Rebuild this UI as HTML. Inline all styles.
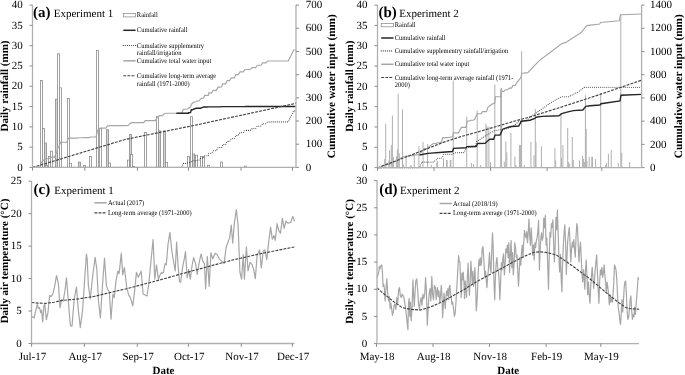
<!DOCTYPE html>
<html><head><meta charset="utf-8"><title>Rainfall and temperature</title>
<style>html,body{margin:0;padding:0;background:#fff;overflow:hidden;width:685px;height:375px;}svg{display:block;font-family:"Liberation Serif", serif;text-rendering:geometricPrecision;filter:grayscale(1);}</style>
</head><body>
<svg width="685" height="375" viewBox="0 0 685 375">
<rect width="685" height="375" fill="#fff"/>
<rect x="40.5" y="80.57" width="2" height="86.83" fill="#fff" stroke="#8c8c8c" stroke-width="0.8"/>
<rect x="42.5" y="128.45" width="2" height="38.95" fill="#fff" stroke="#8c8c8c" stroke-width="0.8"/>
<rect x="44.5" y="143.06" width="2" height="24.34" fill="#d2d2d2" stroke="#8c8c8c" stroke-width="0.8"/>
<rect x="45.5" y="165.37" width="2" height="2.03" fill="#fff" stroke="#8c8c8c" stroke-width="0.8"/>
<rect x="48.5" y="156.44" width="2" height="10.96" fill="#fff" stroke="#8c8c8c" stroke-width="0.8"/>
<rect x="50.5" y="151.17" width="2" height="16.23" fill="#fff" stroke="#8c8c8c" stroke-width="0.8"/>
<rect x="55.5" y="99.23" width="2" height="68.17" fill="#d2d2d2" stroke="#8c8c8c" stroke-width="0.8"/>
<rect x="57.5" y="53.79" width="2" height="113.61" fill="#fff" stroke="#8c8c8c" stroke-width="0.8"/>
<rect x="59.5" y="87.87" width="2" height="79.53" fill="#fff" stroke="#8c8c8c" stroke-width="0.8"/>
<rect x="67.5" y="98.42" width="2" height="68.98" fill="#fff" stroke="#8c8c8c" stroke-width="0.8"/>
<rect x="69.5" y="163.34" width="2" height="4.06" fill="#fff" stroke="#8c8c8c" stroke-width="0.8"/>
<rect x="78.5" y="162.13" width="2" height="5.27" fill="#d2d2d2" stroke="#8c8c8c" stroke-width="0.8"/>
<rect x="83.5" y="165.37" width="2" height="2.03" fill="#fff" stroke="#8c8c8c" stroke-width="0.8"/>
<rect x="89.5" y="156.44" width="2" height="10.96" fill="#fff" stroke="#8c8c8c" stroke-width="0.8"/>
<rect x="96.5" y="50.54" width="2" height="116.86" fill="#fff" stroke="#8c8c8c" stroke-width="0.8"/>
<rect x="99.5" y="128.45" width="2" height="38.95" fill="#fff" stroke="#8c8c8c" stroke-width="0.8"/>
<rect x="106.5" y="129.67" width="2" height="37.73" fill="#d2d2d2" stroke="#8c8c8c" stroke-width="0.8"/>
<rect x="108.5" y="162.94" width="2" height="4.46" fill="#fff" stroke="#8c8c8c" stroke-width="0.8"/>
<rect x="127.5" y="160.1" width="2" height="7.3" fill="#fff" stroke="#8c8c8c" stroke-width="0.8"/>
<rect x="129.5" y="134.53" width="2" height="32.87" fill="#d2d2d2" stroke="#8c8c8c" stroke-width="0.8"/>
<rect x="130.5" y="154.42" width="2" height="12.98" fill="#fff" stroke="#8c8c8c" stroke-width="0.8"/>
<rect x="132.5" y="166.59" width="2" height="0.81" fill="#fff" stroke="#8c8c8c" stroke-width="0.8"/>
<rect x="144.5" y="132.51" width="2" height="34.89" fill="#fff" stroke="#8c8c8c" stroke-width="0.8"/>
<rect x="156.5" y="116.68" width="2" height="50.72" fill="#fff" stroke="#8c8c8c" stroke-width="0.8"/>
<rect x="158.5" y="130.88" width="2" height="36.52" fill="#d2d2d2" stroke="#8c8c8c" stroke-width="0.8"/>
<rect x="163.5" y="130.88" width="2" height="36.52" fill="#d2d2d2" stroke="#8c8c8c" stroke-width="0.8"/>
<rect x="165.5" y="162.53" width="2" height="4.87" fill="#fff" stroke="#8c8c8c" stroke-width="0.8"/>
<rect x="187.5" y="156.44" width="2" height="10.96" fill="#fff" stroke="#8c8c8c" stroke-width="0.8"/>
<rect x="190.5" y="116.68" width="2" height="50.72" fill="#fff" stroke="#8c8c8c" stroke-width="0.8"/>
<rect x="192.5" y="154.01" width="2" height="13.39" fill="#d2d2d2" stroke="#8c8c8c" stroke-width="0.8"/>
<rect x="195.5" y="155.23" width="2" height="12.17" fill="#fff" stroke="#8c8c8c" stroke-width="0.8"/>
<rect x="200.5" y="156.44" width="2" height="10.96" fill="#fff" stroke="#8c8c8c" stroke-width="0.8"/>
<rect x="202.5" y="156.44" width="2" height="10.96" fill="#fff" stroke="#8c8c8c" stroke-width="0.8"/>
<rect x="207.5" y="165.37" width="2" height="2.03" fill="#fff" stroke="#8c8c8c" stroke-width="0.8"/>
<rect x="220.5" y="162.13" width="2" height="5.27" fill="#fff" stroke="#8c8c8c" stroke-width="0.8"/>
<rect x="244.5" y="166.18" width="2" height="1.22" fill="#fff" stroke="#8c8c8c" stroke-width="0.8"/>
<polyline points="32.5,167.4 39.6,167.4 41.3,167.4 41.6,167.4 43.3,167.4 43.5,167.4 45.2,167.4 46.7,167.4 48.1,167.4 49.8,167.4 50,167.4 51.7,167.4 54.3,167.4 56,167.4 56.5,167.4 58.2,167.4 58.9,167.4 60.6,167.4 66.7,167.4 68.4,167.4 68.9,167.4 70.6,167.4 77.3,167.4 79,167.4 82.7,167.4 84.4,167.4 88.9,167.4 90.6,167.4 96,167.4 97.7,167.4 98.3,167.4 100,167.4 105.9,167.4 107.6,167.4 108.1,167.4 109.8,167.4 126.6,167.4 128.3,167.4 130,167.4 130.2,167.4 131.9,167.4 132,167.4 133.7,167.4 143.6,167.4 145.3,167.4 155.3,167.4 157,167.4 157.6,167.4 159.3,167.4 162.6,167.4 164.3,167.4 164.5,167.4 166.2,167.4 181.6,167.4 183.3,163.4 186.8,163.4 188.5,162.6 188.6,162.6 188.8,162.6 190.5,161.8 191.4,161.8 192.7,160.7 193.8,160.7 194.3,160.7 196,160.7 197.3,160.1 199,160.1 200.7,158.1 201.8,158.1 201.9,158.1 203.6,158.1 204.7,155.7 206.9,155.7 208.6,155.7 208.7,153.3 211.6,153.3 213.3,150.8 216.3,150.8 218,147.6 219.9,147.6 221.6,147.6 222.7,144.6 225.6,144.6 227.3,141.4 229.6,141.4 231.3,138.6 234.3,138.6 236,135.4 238.3,135.4 240,132.6 243.3,132.6 245,130.4 245.3,130.4 250.3,130.4 252,128.5 255.6,128.5 257.3,126.1 261,126.1 262.7,123.7 265.8,123.7 267.5,121.9 288.3,121.9 290,118.23 290.1,118.23 291.8,114.56 291.9,114.56 293.6,110.89 295.6,110.89" fill="none" stroke="#3a3a3a" stroke-width="1.1" stroke-dasharray="0 2.05" stroke-linecap="round"/>
<polyline points="32.5,167.4 39.6,167.4 41.3,162.44 41.6,162.44 43.3,160.21 43.5,160.21 45.2,158.82 46.7,158.71 48.1,158.71 49.8,158.08 50,158.08 51.7,157.15 54.3,157.15 56,153.26 56.5,153.26 58.2,146.76 58.9,146.76 60.6,142.22 66.7,142.22 68.4,138.28 68.9,138.28 70.6,138.05 77.3,138.05 79,137.75 82.7,137.75 84.4,137.63 88.9,137.63 90.6,137 96,137 97.7,130.33 98.3,130.33 100,128.1 105.9,128.1 107.6,125.94 108.1,125.94 109.8,125.69 126.6,125.69 128.3,125.27 130,123.39 130.2,123.39 131.9,122.65 132,122.65 133.7,122.61 143.6,122.61 145.3,120.61 155.3,120.61 157,117.71 157.6,117.71 159.3,115.63 162.6,115.63 164.3,113.54 164.5,113.54 166.2,113.26 181.6,113.26 183.3,109.26 186.8,109.26 188.5,108.46 188.6,107.84 188.8,107.84 190.5,107.04 191.4,104.14 192.7,103.04 193.8,102.27 194.3,102.27 196,101.58 197.3,100.98 199,100.98 200.7,98.98 201.8,98.35 201.9,98.35 203.6,97.72 204.7,95.32 206.9,95.32 208.6,95.21 208.7,92.81 211.6,92.81 213.3,90.31 216.3,90.31 218,87.11 219.9,87.11 221.6,86.81 222.7,83.81 225.6,83.81 227.3,80.61 229.6,80.61 231.3,77.81 234.3,77.81 236,74.61 238.3,74.61 240,71.81 243.3,71.81 245,69.61 245.3,69.54 250.3,69.54 252,67.64 255.6,67.64 257.3,65.24 261,65.24 262.7,62.84 265.8,62.84 267.5,61.04 288.3,61.04 290,57.37 290.1,57.37 291.8,53.7 291.9,53.7 293.6,50.03 295.6,50.03" fill="none" stroke="#a6a6a6" stroke-width="1.15"/>
<polyline points="176.4,113.26 181.6,113.26 183.3,113.26 186.8,113.26 188.5,113.26 188.6,112.64 188.8,112.64 190.5,112.64 191.4,109.74 192.7,109.74 193.8,108.97 194.3,108.97 196,108.28 197.3,108.28 199,108.28 200.7,108.28 201.8,107.65 201.9,107.65 203.6,107.02 204.7,107.02 206.9,107.02 208.6,106.91 208.7,106.91 211.6,106.91 213.3,106.91 216.3,106.91 218,106.91 219.9,106.91 221.6,106.61 222.7,106.61 225.6,106.61 227.3,106.61 229.6,106.61 231.3,106.61 234.3,106.61 236,106.61 238.3,106.61 240,106.61 243.3,106.61 245,106.61 245.3,106.54 250.3,106.54 252,106.54 255.6,106.54 257.3,106.54 261,106.54 262.7,106.54 265.8,106.54 267.5,106.54 288.3,106.54 290,106.54 290.1,106.54 291.8,106.54 291.9,106.54 293.6,106.54 295.6,106.54" fill="none" stroke="#262626" stroke-width="1.4"/>
<polyline points="32.5,167.5 125,139.5 200,124.2 296,103.3" fill="none" stroke="#444" stroke-width="1.15" stroke-dasharray="2.9 1.2"/>
<line x1="32.5" y1="5.1" x2="32.5" y2="167.4" stroke="#b0b0b0" stroke-width="1.3"/>
<line x1="29.5" y1="167.4" x2="32.5" y2="167.4" stroke="#8c8c8c" stroke-width="1"/>
<text x="22.8" y="167.55" font-size="11" text-anchor="end" font-weight="normal" fill="#000" dominant-baseline="central">0</text>
<line x1="29.5" y1="147.11" x2="32.5" y2="147.11" stroke="#8c8c8c" stroke-width="1"/>
<text x="22.8" y="147.26" font-size="11" text-anchor="end" font-weight="normal" fill="#000" dominant-baseline="central">5</text>
<line x1="29.5" y1="126.83" x2="32.5" y2="126.83" stroke="#8c8c8c" stroke-width="1"/>
<text x="22.8" y="126.98" font-size="11" text-anchor="end" font-weight="normal" fill="#000" dominant-baseline="central">10</text>
<line x1="29.5" y1="106.54" x2="32.5" y2="106.54" stroke="#8c8c8c" stroke-width="1"/>
<text x="22.8" y="106.69" font-size="11" text-anchor="end" font-weight="normal" fill="#000" dominant-baseline="central">15</text>
<line x1="29.5" y1="86.25" x2="32.5" y2="86.25" stroke="#8c8c8c" stroke-width="1"/>
<text x="22.8" y="86.4" font-size="11" text-anchor="end" font-weight="normal" fill="#000" dominant-baseline="central">20</text>
<line x1="29.5" y1="65.96" x2="32.5" y2="65.96" stroke="#8c8c8c" stroke-width="1"/>
<text x="22.8" y="66.11" font-size="11" text-anchor="end" font-weight="normal" fill="#000" dominant-baseline="central">25</text>
<line x1="29.5" y1="45.67" x2="32.5" y2="45.67" stroke="#8c8c8c" stroke-width="1"/>
<text x="22.8" y="45.82" font-size="11" text-anchor="end" font-weight="normal" fill="#000" dominant-baseline="central">30</text>
<line x1="29.5" y1="25.39" x2="32.5" y2="25.39" stroke="#8c8c8c" stroke-width="1"/>
<text x="22.8" y="25.54" font-size="11" text-anchor="end" font-weight="normal" fill="#000" dominant-baseline="central">35</text>
<line x1="29.5" y1="5.1" x2="32.5" y2="5.1" stroke="#8c8c8c" stroke-width="1"/>
<text x="22.8" y="5.25" font-size="11" text-anchor="end" font-weight="normal" fill="#000" dominant-baseline="central">40</text>
<line x1="296" y1="5.1" x2="296" y2="167.4" stroke="#b0b0b0" stroke-width="1.3"/>
<line x1="296" y1="167.4" x2="299" y2="167.4" stroke="#8c8c8c" stroke-width="1"/>
<text x="305.8" y="167.55" font-size="11" text-anchor="start" font-weight="normal" fill="#000" dominant-baseline="central">0</text>
<line x1="296" y1="144.21" x2="299" y2="144.21" stroke="#8c8c8c" stroke-width="1"/>
<text x="305.8" y="144.36" font-size="11" text-anchor="start" font-weight="normal" fill="#000" dominant-baseline="central">100</text>
<line x1="296" y1="121.03" x2="299" y2="121.03" stroke="#8c8c8c" stroke-width="1"/>
<text x="305.8" y="121.18" font-size="11" text-anchor="start" font-weight="normal" fill="#000" dominant-baseline="central">200</text>
<line x1="296" y1="97.84" x2="299" y2="97.84" stroke="#8c8c8c" stroke-width="1"/>
<text x="305.8" y="97.99" font-size="11" text-anchor="start" font-weight="normal" fill="#000" dominant-baseline="central">300</text>
<line x1="296" y1="74.66" x2="299" y2="74.66" stroke="#8c8c8c" stroke-width="1"/>
<text x="305.8" y="74.81" font-size="11" text-anchor="start" font-weight="normal" fill="#000" dominant-baseline="central">400</text>
<line x1="296" y1="51.47" x2="299" y2="51.47" stroke="#8c8c8c" stroke-width="1"/>
<text x="305.8" y="51.62" font-size="11" text-anchor="start" font-weight="normal" fill="#000" dominant-baseline="central">500</text>
<line x1="296" y1="28.29" x2="299" y2="28.29" stroke="#8c8c8c" stroke-width="1"/>
<text x="305.8" y="28.44" font-size="11" text-anchor="start" font-weight="normal" fill="#000" dominant-baseline="central">600</text>
<line x1="296" y1="5.1" x2="299" y2="5.1" stroke="#8c8c8c" stroke-width="1"/>
<text x="305.8" y="5.25" font-size="11" text-anchor="start" font-weight="normal" fill="#000" dominant-baseline="central">700</text>
<line x1="32.5" y1="167.4" x2="296" y2="167.4" stroke="#b0b0b0" stroke-width="1.3"/>
<line x1="32.5" y1="167.4" x2="32.5" y2="170.7" stroke="#8c8c8c" stroke-width="1"/>
<line x1="84.8" y1="167.4" x2="84.8" y2="170.7" stroke="#8c8c8c" stroke-width="1"/>
<line x1="137.4" y1="167.4" x2="137.4" y2="170.7" stroke="#8c8c8c" stroke-width="1"/>
<line x1="188.5" y1="167.4" x2="188.5" y2="170.7" stroke="#8c8c8c" stroke-width="1"/>
<line x1="241" y1="167.4" x2="241" y2="170.7" stroke="#8c8c8c" stroke-width="1"/>
<line x1="292.5" y1="167.4" x2="292.5" y2="170.7" stroke="#8c8c8c" stroke-width="1"/>
<rect x="384.2" y="158.9" width="1" height="8.7" fill="#b0b0b0"/>
<rect x="385.2" y="123.6" width="1" height="44" fill="#b0b0b0"/>
<rect x="388.3" y="160.4" width="1" height="7.2" fill="#b0b0b0"/>
<rect x="389.1" y="150.2" width="1" height="17.4" fill="#b0b0b0"/>
<rect x="390.8" y="145.1" width="1" height="22.5" fill="#b0b0b0"/>
<rect x="391.9" y="115.6" width="1" height="52" fill="#b0b0b0"/>
<rect x="392.9" y="157" width="1" height="10.6" fill="#b0b0b0"/>
<rect x="395.9" y="156.3" width="1" height="11.3" fill="#b0b0b0"/>
<rect x="396.9" y="149.2" width="1" height="18.4" fill="#b0b0b0"/>
<rect x="397.7" y="93.8" width="1" height="73.8" fill="#b0b0b0"/>
<rect x="398.8" y="153.3" width="1" height="14.3" fill="#b0b0b0"/>
<rect x="402" y="109.2" width="1" height="58.4" fill="#b0b0b0"/>
<rect x="402.9" y="164.5" width="1" height="3.1" fill="#b0b0b0"/>
<rect x="405.6" y="155.8" width="1" height="11.8" fill="#b0b0b0"/>
<rect x="409.7" y="165.5" width="1" height="2.1" fill="#b0b0b0"/>
<rect x="410.7" y="165.5" width="1" height="2.1" fill="#b0b0b0"/>
<rect x="413.8" y="154.8" width="1" height="12.8" fill="#b0b0b0"/>
<rect x="418.4" y="146.1" width="1" height="21.5" fill="#b0b0b0"/>
<rect x="422.5" y="142" width="1" height="25.6" fill="#b0b0b0"/>
<rect x="427.1" y="144.1" width="1" height="23.5" fill="#b0b0b0"/>
<rect x="430.7" y="164.5" width="1" height="3.1" fill="#b0b0b0"/>
<rect x="436.3" y="162.5" width="1" height="5.1" fill="#b0b0b0"/>
<rect x="436.8" y="160.9" width="1" height="6.7" fill="#b0b0b0"/>
<rect x="443" y="158.5" width="1" height="9.1" fill="#b0b0b0"/>
<rect x="446.1" y="159.9" width="1" height="7.7" fill="#b0b0b0"/>
<rect x="446.6" y="159.9" width="1" height="7.7" fill="#b0b0b0"/>
<rect x="449.8" y="159.9" width="1" height="7.7" fill="#b0b0b0"/>
<rect x="450.4" y="159.9" width="1" height="7.7" fill="#b0b0b0"/>
<rect x="452.7" y="80.6" width="1" height="87" fill="#b0b0b0"/>
<rect x="466.2" y="116.8" width="1" height="50.8" fill="#b0b0b0"/>
<rect x="470.9" y="163" width="1" height="4.6" fill="#b0b0b0"/>
<rect x="473.1" y="164" width="1" height="3.6" fill="#b0b0b0"/>
<rect x="476.7" y="110.6" width="1" height="57" fill="#b0b0b0"/>
<rect x="480.1" y="165" width="1" height="2.6" fill="#b0b0b0"/>
<rect x="485.4" y="123.6" width="1" height="44" fill="#b0b0b0"/>
<rect x="486.4" y="125.9" width="1" height="41.7" fill="#b0b0b0"/>
<rect x="488.4" y="126.7" width="1" height="40.9" fill="#b0b0b0"/>
<rect x="490" y="162" width="1" height="5.6" fill="#b0b0b0"/>
<rect x="494.3" y="84.5" width="1" height="83.1" fill="#b0b0b0"/>
<rect x="500.2" y="88.6" width="1" height="79" fill="#b0b0b0"/>
<rect x="501" y="88" width="1" height="79.6" fill="#b0b0b0"/>
<rect x="503.8" y="161.5" width="1" height="6.1" fill="#b0b0b0"/>
<rect x="505.3" y="141.3" width="1" height="26.3" fill="#b0b0b0"/>
<rect x="506.3" y="152.3" width="1" height="15.3" fill="#b0b0b0"/>
<rect x="510.4" y="132.7" width="1" height="34.9" fill="#b0b0b0"/>
<rect x="514.4" y="156.3" width="1" height="11.3" fill="#b0b0b0"/>
<rect x="515.4" y="165" width="1" height="2.6" fill="#b0b0b0"/>
<rect x="518.9" y="145.1" width="1" height="22.5" fill="#b0b0b0"/>
<rect x="519.9" y="145.1" width="1" height="22.5" fill="#b0b0b0"/>
<rect x="521.1" y="51.2" width="1" height="116.4" fill="#b0b0b0"/>
<rect x="523.8" y="165" width="1" height="2.6" fill="#b0b0b0"/>
<rect x="530.4" y="142" width="1" height="25.6" fill="#b0b0b0"/>
<rect x="533.5" y="155.3" width="1" height="12.3" fill="#b0b0b0"/>
<rect x="534.8" y="109" width="1" height="58.6" fill="#b0b0b0"/>
<rect x="535.5" y="142" width="1" height="25.6" fill="#b0b0b0"/>
<rect x="537.9" y="167" width="1" height="0.6" fill="#b0b0b0"/>
<rect x="540.9" y="146.1" width="1" height="21.5" fill="#b0b0b0"/>
<rect x="546.7" y="167" width="1" height="0.6" fill="#b0b0b0"/>
<rect x="554.4" y="148.2" width="1" height="19.4" fill="#b0b0b0"/>
<rect x="555.2" y="160.4" width="1" height="7.2" fill="#b0b0b0"/>
<rect x="560.4" y="113" width="1" height="54.6" fill="#b0b0b0"/>
<rect x="561" y="158.4" width="1" height="9.2" fill="#b0b0b0"/>
<rect x="562.4" y="145.1" width="1" height="22.5" fill="#b0b0b0"/>
<rect x="567.2" y="128" width="1" height="39.6" fill="#b0b0b0"/>
<rect x="567.9" y="162" width="1" height="5.6" fill="#b0b0b0"/>
<rect x="569.2" y="163.5" width="1" height="4.1" fill="#b0b0b0"/>
<rect x="571.8" y="136.9" width="1" height="30.7" fill="#b0b0b0"/>
<rect x="572.8" y="159.9" width="1" height="7.7" fill="#b0b0b0"/>
<rect x="579" y="160.4" width="1" height="7.2" fill="#b0b0b0"/>
<rect x="582.1" y="155.8" width="1" height="11.8" fill="#b0b0b0"/>
<rect x="583.1" y="158.9" width="1" height="8.7" fill="#b0b0b0"/>
<rect x="583.8" y="162" width="1" height="5.6" fill="#b0b0b0"/>
<rect x="584.9" y="95.2" width="1" height="72.4" fill="#b0b0b0"/>
<rect x="585.7" y="128.9" width="1" height="38.7" fill="#b0b0b0"/>
<rect x="586.4" y="160.9" width="1" height="6.7" fill="#b0b0b0"/>
<rect x="588.7" y="156.9" width="1" height="10.7" fill="#b0b0b0"/>
<rect x="591.3" y="156.9" width="1" height="10.7" fill="#b0b0b0"/>
<rect x="592" y="156.9" width="1" height="10.7" fill="#b0b0b0"/>
<rect x="595.1" y="158.9" width="1" height="8.7" fill="#b0b0b0"/>
<rect x="600.2" y="93.2" width="1" height="74.4" fill="#b0b0b0"/>
<rect x="605.1" y="165" width="1" height="2.6" fill="#b0b0b0"/>
<rect x="606.1" y="163" width="1" height="4.6" fill="#b0b0b0"/>
<rect x="607.9" y="153.8" width="1" height="13.8" fill="#b0b0b0"/>
<rect x="610.7" y="149.7" width="1" height="17.9" fill="#b0b0b0"/>
<rect x="617.8" y="163" width="1" height="4.6" fill="#b0b0b0"/>
<rect x="620.3" y="14.7" width="1" height="152.9" fill="#b0b0b0"/>
<rect x="621.2" y="152.8" width="1" height="14.8" fill="#b0b0b0"/>
<rect x="622.5" y="166.6" width="1" height="1" fill="#b0b0b0"/>
<rect x="629.1" y="162" width="1" height="5.6" fill="#b0b0b0"/>
<polyline points="377.7,167.8 419.8,167.8 421.7,162.1 433.5,162.1 437.9,158.2 441.6,158.2 443.8,154.3 452.6,154.3 455,152.8 464,152.5 466.5,147.5 475,147.2 476.5,141.5 486.7,135 495.2,130.3 500.5,129.7 507,128.7 513.4,126 518.7,121.7 527.2,120.1 530,117.2 542,108.8 551.6,102.2 561.2,96.8 568.4,96.8 578,92 584.6,87.2 641.6,87.2" fill="none" stroke="#3a3a3a" stroke-width="1.1" stroke-dasharray="0 2.05" stroke-linecap="round"/>
<polyline points="377.7,167.8 381.1,167.8 382.5,165.2 385.35,165.2 386.75,164.1 389.6,164.1 391,163 395.3,161.4 398.5,159.9 402.8,156.7 405.1,156.7 406.5,156.15 408.8,156.15 410.2,155.6 413.1,155.6 414.5,154.9 417.4,154.9 418.8,154.2 421.7,151.9 424,148.5 427.6,148.5 429,146.7 433.5,143.5 436.15,143.5 437.55,142.75 440.2,142.75 441.6,142 442.5,137.9 444.47,137.9 445.87,137.57 447.83,137.57 449.23,137.23 451.2,137.23 452.6,136.9 453.5,132.8 458.5,132.8 461.4,127.3 465.8,127.3 467.3,121 469.55,121 470.95,120.25 473.2,120.25 474.6,119.5 477.2,113.7 481.1,113.7 482.5,111.6 486.5,111.6 487.9,107.3 492.1,104.1 494.7,103 495.5,96.7 500.7,96.7 501.5,91.3 503.95,91.3 505.35,89.7 507.8,89.7 509.2,88.1 511.5,88.1 512.9,85.45 515.2,85.45 516.6,82.8 520.9,77.5 521.8,73.2 523.5,73.2 524.9,72.85 526.6,72.85 528,72.5 539.2,60.6 550.4,52.2 561.6,43.8 565.8,42.4 581.2,32.6 586.8,25.6 599.7,24 600.5,22.5 619.3,20.8 620.5,14.7 641.6,14" fill="none" stroke="#a6a6a6" stroke-width="1.15"/>
<polyline points="419.5,155 419.5,155 428,153.4 442.3,152.2 452.6,151.5 453.5,148.4 466,147.7 467,146.6 476.5,146.2 477.5,143.5 485.1,143.4 487,141.5 489.9,139.3 493.6,139.2 495,135.1 500,135 502.7,129.2 507,127.6 511.2,126.5 518.7,126 521.4,121.2 530,120.2 534.8,118.4 536,117.2 542,116.4 558.8,115.8 561.8,113.6 566,112.4 573.2,110.6 582.8,110 585.8,106.4 590,105.8 600,105 601,103.7 620,101 621,95.2 641.6,94.4" fill="none" stroke="#262626" stroke-width="1.4"/>
<polyline points="377.7,167.8 410,155.5 444,142.1 460,136.9 480,131.3 514,121.3 534,115.8 550,110.6 560,107.5 598,95.1 641.6,80.2" fill="none" stroke="#444" stroke-width="1.15" stroke-dasharray="2.9 1.2"/>
<line x1="377.5" y1="5.1" x2="377.5" y2="167.6" stroke="#b0b0b0" stroke-width="1.3"/>
<line x1="374.5" y1="167.6" x2="377.5" y2="167.6" stroke="#8c8c8c" stroke-width="1"/>
<text x="367.5" y="167.75" font-size="11" text-anchor="end" font-weight="normal" fill="#000" dominant-baseline="central">0</text>
<line x1="374.5" y1="147.29" x2="377.5" y2="147.29" stroke="#8c8c8c" stroke-width="1"/>
<text x="367.5" y="147.44" font-size="11" text-anchor="end" font-weight="normal" fill="#000" dominant-baseline="central">5</text>
<line x1="374.5" y1="126.97" x2="377.5" y2="126.97" stroke="#8c8c8c" stroke-width="1"/>
<text x="367.5" y="127.12" font-size="11" text-anchor="end" font-weight="normal" fill="#000" dominant-baseline="central">10</text>
<line x1="374.5" y1="106.66" x2="377.5" y2="106.66" stroke="#8c8c8c" stroke-width="1"/>
<text x="367.5" y="106.81" font-size="11" text-anchor="end" font-weight="normal" fill="#000" dominant-baseline="central">15</text>
<line x1="374.5" y1="86.35" x2="377.5" y2="86.35" stroke="#8c8c8c" stroke-width="1"/>
<text x="367.5" y="86.5" font-size="11" text-anchor="end" font-weight="normal" fill="#000" dominant-baseline="central">20</text>
<line x1="374.5" y1="66.04" x2="377.5" y2="66.04" stroke="#8c8c8c" stroke-width="1"/>
<text x="367.5" y="66.19" font-size="11" text-anchor="end" font-weight="normal" fill="#000" dominant-baseline="central">25</text>
<line x1="374.5" y1="45.72" x2="377.5" y2="45.72" stroke="#8c8c8c" stroke-width="1"/>
<text x="367.5" y="45.87" font-size="11" text-anchor="end" font-weight="normal" fill="#000" dominant-baseline="central">30</text>
<line x1="374.5" y1="25.41" x2="377.5" y2="25.41" stroke="#8c8c8c" stroke-width="1"/>
<text x="367.5" y="25.56" font-size="11" text-anchor="end" font-weight="normal" fill="#000" dominant-baseline="central">35</text>
<line x1="374.5" y1="5.1" x2="377.5" y2="5.1" stroke="#8c8c8c" stroke-width="1"/>
<text x="367.5" y="5.25" font-size="11" text-anchor="end" font-weight="normal" fill="#000" dominant-baseline="central">40</text>
<line x1="641.6" y1="5.1" x2="641.6" y2="167.6" stroke="#b0b0b0" stroke-width="1.3"/>
<line x1="641.6" y1="167.6" x2="644.6" y2="167.6" stroke="#8c8c8c" stroke-width="1"/>
<text x="650" y="167.75" font-size="11" text-anchor="start" font-weight="normal" fill="#000" dominant-baseline="central">0</text>
<line x1="641.6" y1="144.39" x2="644.6" y2="144.39" stroke="#8c8c8c" stroke-width="1"/>
<text x="650" y="144.54" font-size="11" text-anchor="start" font-weight="normal" fill="#000" dominant-baseline="central">200</text>
<line x1="641.6" y1="121.17" x2="644.6" y2="121.17" stroke="#8c8c8c" stroke-width="1"/>
<text x="650" y="121.32" font-size="11" text-anchor="start" font-weight="normal" fill="#000" dominant-baseline="central">400</text>
<line x1="641.6" y1="97.96" x2="644.6" y2="97.96" stroke="#8c8c8c" stroke-width="1"/>
<text x="650" y="98.11" font-size="11" text-anchor="start" font-weight="normal" fill="#000" dominant-baseline="central">600</text>
<line x1="641.6" y1="74.74" x2="644.6" y2="74.74" stroke="#8c8c8c" stroke-width="1"/>
<text x="650" y="74.89" font-size="11" text-anchor="start" font-weight="normal" fill="#000" dominant-baseline="central">800</text>
<line x1="641.6" y1="51.53" x2="644.6" y2="51.53" stroke="#8c8c8c" stroke-width="1"/>
<text x="650" y="51.68" font-size="11" text-anchor="start" font-weight="normal" fill="#000" dominant-baseline="central">1000</text>
<line x1="641.6" y1="28.31" x2="644.6" y2="28.31" stroke="#8c8c8c" stroke-width="1"/>
<text x="650" y="28.46" font-size="11" text-anchor="start" font-weight="normal" fill="#000" dominant-baseline="central">1200</text>
<line x1="641.6" y1="5.1" x2="644.6" y2="5.1" stroke="#8c8c8c" stroke-width="1"/>
<text x="650" y="5.25" font-size="11" text-anchor="start" font-weight="normal" fill="#000" dominant-baseline="central">1400</text>
<line x1="377.5" y1="167.6" x2="641.6" y2="167.6" stroke="#b0b0b0" stroke-width="1.3"/>
<line x1="377.5" y1="167.6" x2="377.5" y2="170.9" stroke="#8c8c8c" stroke-width="1"/>
<line x1="434.03" y1="167.6" x2="434.03" y2="170.9" stroke="#8c8c8c" stroke-width="1"/>
<line x1="490.57" y1="167.6" x2="490.57" y2="170.9" stroke="#8c8c8c" stroke-width="1"/>
<line x1="547.1" y1="167.6" x2="547.1" y2="170.9" stroke="#8c8c8c" stroke-width="1"/>
<line x1="601.79" y1="167.6" x2="601.79" y2="170.9" stroke="#8c8c8c" stroke-width="1"/>
<polyline points="32,316.4 34.1,318 35.7,310.8 37.3,304.4 38.4,308.4 39.5,307.6 40.8,312.9 41.6,310 42.7,322 44,305.2 44.8,304.4 46.4,319.6 48,312.4 49.6,295.6 51.2,296.4 52.8,294 54.4,287.6 56.5,275.6 58.4,283.6 60,307.6 61.6,299.6 63.2,301.2 65.1,289.5 66.5,277.8 68.1,298.5 70.4,325.8 72,326.2 74.2,298.5 76.5,287.2 78.1,307.6 80.3,327.6 82.6,309.9 86.4,254 87.2,259.2 88.4,285.6 90.3,298.8 92.7,276 95.1,257.3 96.8,268.8 98.5,301.2 100.4,318 102.3,288 104.5,258 106.4,285.6 108.1,290.4 109.3,291.6 111,319.2 112.9,294 114.3,297.6 116,280.8 117.9,271.2 119.1,273.6 121.3,253.2 122.7,274.8 124.4,267.6 126.8,288 128.7,295.2 130.4,297.6 132.8,306 134.7,290.4 136.4,272.4 138.3,277.2 141.2,271.2 143.1,294 146.9,296 148.8,284 151.2,258.8 153.1,239.6 154.8,279.2 156.5,264.8 158.4,279.2 160.3,274.4 161.5,272.7 163.2,273.2 165.1,263.6 166.3,264.8 168,244.4 169.9,232.4 171.6,249.2 173.3,260 175.2,270.8 176.6,242 178.1,266 179.5,281.6 180.7,282.3 182.4,268.4 184.3,258.8 185.5,251.6 187.2,278 188.6,269.6 190.3,279.2 192,266 193.6,257.6 195.6,263.6 197.2,274.4 199.2,262.4 201.1,254 202.8,261.2 204.4,263.6 205.6,288.7 207.3,256.4 209.2,286.3 210.9,252.8 212.8,258.8 215.2,253.2 217.1,254.7 219.3,258.8 221.7,261.2 224.1,263.6 226,248 228.4,240.8 229.6,238.4 231.3,225.2 232.7,243.2 234.4,222.8 236.3,209.6 238,224 239.2,252.8 239.9,272 241.6,279.2 243.2,254.7 244.4,279.2 246.4,246.8 248,270.8 250,262.4 251.9,264.3 253.6,269.1 255.3,278.7 257.2,254.7 259.6,250 261.3,268 263.2,251.2 264.9,250 266.8,259.6 268.7,241.6 270.6,227.2 272.3,239.2 274,235.6 275.2,240.4 277.1,223.6 278.8,230.8 280.5,233.2 282.4,218.3 284.1,228.4 286,221.2 287.9,223.1 290.8,222.4 292.7,216.4 294.6,221.2" fill="none" stroke="#a6a6a6" stroke-width="1.2" stroke-linejoin="round"/>
<polyline points="31.6,302.5 38,303.1 46,303.3 54,302.2 62.1,300.5 78.2,298.9 94.2,296.4 110.3,292.5 126.3,288.8 140,285.2 160,279.9 186.7,272.4 210,266.1 233.5,259.8 262,253.4 294.6,246.9" fill="none" stroke="#444" stroke-width="1.15" stroke-dasharray="2.9 1.2"/>
<line x1="31.5" y1="181.2" x2="31.5" y2="343.5" stroke="#b0b0b0" stroke-width="1.3"/>
<line x1="28.5" y1="343.5" x2="31.5" y2="343.5" stroke="#8c8c8c" stroke-width="1"/>
<text x="21.8" y="343.65" font-size="11" text-anchor="end" font-weight="normal" fill="#000" dominant-baseline="central">0</text>
<line x1="28.5" y1="311.04" x2="31.5" y2="311.04" stroke="#8c8c8c" stroke-width="1"/>
<text x="21.8" y="311.19" font-size="11" text-anchor="end" font-weight="normal" fill="#000" dominant-baseline="central">5</text>
<line x1="28.5" y1="278.58" x2="31.5" y2="278.58" stroke="#8c8c8c" stroke-width="1"/>
<text x="21.8" y="278.73" font-size="11" text-anchor="end" font-weight="normal" fill="#000" dominant-baseline="central">10</text>
<line x1="28.5" y1="246.12" x2="31.5" y2="246.12" stroke="#8c8c8c" stroke-width="1"/>
<text x="21.8" y="246.27" font-size="11" text-anchor="end" font-weight="normal" fill="#000" dominant-baseline="central">15</text>
<line x1="28.5" y1="213.66" x2="31.5" y2="213.66" stroke="#8c8c8c" stroke-width="1"/>
<text x="21.8" y="213.81" font-size="11" text-anchor="end" font-weight="normal" fill="#000" dominant-baseline="central">20</text>
<line x1="28.5" y1="181.2" x2="31.5" y2="181.2" stroke="#8c8c8c" stroke-width="1"/>
<text x="21.8" y="181.35" font-size="11" text-anchor="end" font-weight="normal" fill="#000" dominant-baseline="central">25</text>
<line x1="31.5" y1="343.5" x2="294.5" y2="343.5" stroke="#b0b0b0" stroke-width="1.3"/>
<line x1="31.6" y1="343.5" x2="31.6" y2="346.8" stroke="#8c8c8c" stroke-width="1"/>
<line x1="84.44" y1="343.5" x2="84.44" y2="346.8" stroke="#8c8c8c" stroke-width="1"/>
<line x1="137.29" y1="343.5" x2="137.29" y2="346.8" stroke="#8c8c8c" stroke-width="1"/>
<line x1="188.42" y1="343.5" x2="188.42" y2="346.8" stroke="#8c8c8c" stroke-width="1"/>
<line x1="241.27" y1="343.5" x2="241.27" y2="346.8" stroke="#8c8c8c" stroke-width="1"/>
<line x1="292.4" y1="343.5" x2="292.4" y2="346.8" stroke="#8c8c8c" stroke-width="1"/>
<polyline points="377.1,277.7 378.2,274.3 378.9,271 379.3,266.6 380,268.8 380.9,265.5 381.8,265 382.4,272.1 383.1,286.5 383.7,284.3 384.4,288.7 385.1,300.9 386,288.7 386.8,278.8 387.7,293.1 388.6,300.9 389.3,296.5 390.2,308.6 390.8,303.1 391.5,307.5 392.4,315.3 393.3,311.9 394.1,305.3 395,304.2 395.9,309.3 396.8,297.6 397.7,303.1 398.6,289.8 399.5,287.6 400.3,295.4 401.2,297.6 402.1,294.2 403,295.4 403.9,297.6 404.8,303.1 405.6,308.6 406.5,316.4 407.2,323 407.9,329.6 408.5,303.1 409.2,298.7 409.8,316.4 410.5,302 411.2,320.8 412.1,307.5 412.9,279.9 413.6,294.2 414.3,306.4 414.9,294.2 415.8,281 416.7,278.8 417.6,288.7 418.5,303.1 419.4,309.7 420.2,302 421.1,297.6 422,305.3 422.9,294.2 423.8,298.7 424.7,294.2 425.6,277.7 426.4,290.9 427.3,325.2 428.2,307.5 429.1,294.2 430,288.7 430.9,300.9 431.8,276.5 432.6,294.2 433.5,299.8 434.4,285.4 435.5,287.6 436.2,299.7 436.9,292 437.5,287.6 438.2,296.4 438.9,290.9 439.8,302 440.6,295.3 441.3,285.4 442,296.4 442.6,317.4 443.3,306.4 444,293.1 444.6,299.7 445.3,308.6 445.9,297.5 446.6,290.9 447.3,295.3 447.9,288.7 448.6,299.7 449.3,286.5 449.9,285.4 450.6,294.2 451.3,298.6 451.9,304.2 452.6,301.9 453.5,308.6 454.4,316.3 455.2,313 456.1,299.7 457,284.2 457.9,268.8 458.6,255.5 459.2,261 459.9,262.1 460.5,278.7 461.2,297.5 461.9,273.2 462.5,279.8 463.2,272.1 463.9,282 464.5,298.6 465.2,280.9 465.9,288.7 466.5,297.5 467.2,279.8 468.1,263.2 468.7,282 469.4,295.3 470.1,284.2 470.9,261 471.6,273.2 472.3,284.2 472.9,271 473.6,286.5 474.3,278.7 474.9,267.7 475.6,285.4 476.3,310.8 476.9,304.2 477.6,288.7 478.2,273.2 478.9,259.9 479.6,265.4 480.2,257.7 480.9,265.4 481.6,262.1 482.2,248.8 482.9,246.6 483.6,255.5 484.2,266.5 484.9,277.6 485.5,271 486.2,278.7 486.9,287.6 487.5,278.7 488.2,272 488.7,265.1 489.5,252.7 490.2,267.6 491,272.5 491.7,252.7 492.5,232.8 493.2,247.7 494,282.4 494.7,299.8 495.4,277.5 496.2,262.6 496.9,257.6 497.7,267.6 498.4,270 499.2,282.4 499.9,299.8 500.7,280 501.4,262.6 502.1,270 502.9,257.6 503.6,253.9 504.4,275 505.1,265.1 505.9,248.9 506.6,252.7 507.4,245.2 508.1,257.6 508.8,242.7 509.6,272.5 510.3,255.1 511.1,240.3 511.8,267.6 512.6,252.7 513.3,275 514.1,262.6 514.8,242.7 515.5,247.7 516.3,257.6 517,255.1 517.8,272.5 518.5,286.2 519.3,270 520,257.6 520.8,265.1 521.5,252.7 522.2,245.2 523,257.6 523.7,242.7 524.5,230.3 525.2,235.3 526,237.8 526.7,231.6 527.5,242.7 528.2,232.8 528.9,219.2 529.7,235.3 530.4,245.2 531.2,227.9 531.9,240.3 532.7,255.1 533.4,245.2 534.2,260.1 534.9,242.7 535.6,247.7 536.4,240.3 537.1,237.8 537.9,230.3 538.6,220.4 539.4,270 540.1,250.2 540.9,237.8 541.6,232.8 542.3,240.3 543.1,236.5 543.8,218 544.6,227.9 545.3,215.4 546.1,245.2 546.8,237.8 547.6,262 548.5,289.3 549.2,257.1 550,232.3 550.7,237.2 551.4,223.6 552.2,227.3 552.9,219.9 553.7,244.7 554.4,262 555.2,244.7 555.9,217.4 556.7,229.8 557.4,209.9 558.1,232.3 558.9,257.1 559.6,272 560.4,254.6 561.1,276.9 561.9,291.8 562.6,262 563.4,244.7 564.1,232.3 564.8,224.8 565.6,242.2 566.3,274.4 567.1,254.6 567.8,239.7 568.6,232.3 569.3,227.3 570.1,244.7 570.8,262 571.5,249.6 572.3,242.2 573,247.1 573.8,239.7 574.5,249.6 575.3,257.1 576,237.2 576.8,223.6 577.5,227.3 578.2,244.7 579,262 579.7,249.6 580.5,242.2 581.2,257.1 582,274.4 582.7,281.9 583.5,269.5 584.2,279.7 584.9,289.3 585.5,269.8 586.2,259.9 587,277.3 587.7,294.6 588.5,282.2 589.2,294.6 590,303.3 590.7,287.2 591.4,277.3 592.2,267.3 592.9,277.3 593.7,288.4 594.4,281 595.2,269.8 595.9,262.4 596.7,254.9 597.4,272.3 598.1,288.4 598.9,303.3 599.6,282.2 600.4,269.8 601.1,274.8 601.9,267.3 602.6,277.3 603.4,272.3 604.1,264.9 604.8,274.8 605.6,282.2 606.3,292.1 607.1,282.2 607.8,287.2 608.6,294.6 609.3,304.6 610.1,294.6 610.8,302.1 611.5,297.1 612.3,302.1 613,294.6 613.8,282.2 614.5,264.9 615.3,267.3 616,269.8 616.8,279.7 617.5,294.6 618.2,307 619,312 619.7,319.4 620.5,324.4 621.2,314.5 622,299.6 622.7,312 623.5,299.6 624.2,287.2 624.9,282.2 625.7,281 626.4,294.6 627.2,312 627.9,319.4 628.7,317 629.4,309.5 630.2,299.6 630.9,295.9 631.6,309.5 632.4,319.4 633.1,314.5 633.9,317 634.6,307 635.4,314.5 636.1,304.6 636.9,294.6 637.6,284.7 638.1,277.3 638.6,279.7" fill="none" stroke="#a6a6a6" stroke-width="1.2" stroke-linejoin="round"/>
<polyline points="377,287.9 385.3,295 394.7,302.4 402.2,307.6 406.8,308.6 412,309.4 420.2,310.1 430.4,307.1 440.6,302.5 450.9,296.9 461.1,291.2 471.3,285.1 478,280.9 490,274.4 502,268.2 514,261.6 526,255.6 533.8,252.3 540,251.8 546,252.4 555.9,254.8 564,260 573.3,266.5 590.7,279.5 608,294.2 620,303.6 625.3,307.2 628.8,308.5 639.2,309.3" fill="none" stroke="#444" stroke-width="1.15" stroke-dasharray="2.9 1.2"/>
<line x1="377" y1="180.6" x2="377" y2="343.6" stroke="#b0b0b0" stroke-width="1.3"/>
<line x1="374" y1="343.6" x2="377" y2="343.6" stroke="#8c8c8c" stroke-width="1"/>
<text x="367.2" y="343.75" font-size="11" text-anchor="end" font-weight="normal" fill="#000" dominant-baseline="central">0</text>
<line x1="374" y1="316.43" x2="377" y2="316.43" stroke="#8c8c8c" stroke-width="1"/>
<text x="367.2" y="316.58" font-size="11" text-anchor="end" font-weight="normal" fill="#000" dominant-baseline="central">5</text>
<line x1="374" y1="289.27" x2="377" y2="289.27" stroke="#8c8c8c" stroke-width="1"/>
<text x="367.2" y="289.42" font-size="11" text-anchor="end" font-weight="normal" fill="#000" dominant-baseline="central">10</text>
<line x1="374" y1="262.1" x2="377" y2="262.1" stroke="#8c8c8c" stroke-width="1"/>
<text x="367.2" y="262.25" font-size="11" text-anchor="end" font-weight="normal" fill="#000" dominant-baseline="central">15</text>
<line x1="374" y1="234.93" x2="377" y2="234.93" stroke="#8c8c8c" stroke-width="1"/>
<text x="367.2" y="235.08" font-size="11" text-anchor="end" font-weight="normal" fill="#000" dominant-baseline="central">20</text>
<line x1="374" y1="207.77" x2="377" y2="207.77" stroke="#8c8c8c" stroke-width="1"/>
<text x="367.2" y="207.92" font-size="11" text-anchor="end" font-weight="normal" fill="#000" dominant-baseline="central">25</text>
<line x1="374" y1="180.6" x2="377" y2="180.6" stroke="#8c8c8c" stroke-width="1"/>
<text x="367.2" y="180.75" font-size="11" text-anchor="end" font-weight="normal" fill="#000" dominant-baseline="central">30</text>
<line x1="377" y1="343.6" x2="639" y2="343.6" stroke="#b0b0b0" stroke-width="1.3"/>
<line x1="376.5" y1="343.6" x2="376.5" y2="346.9" stroke="#8c8c8c" stroke-width="1"/>
<line x1="433.03" y1="343.6" x2="433.03" y2="346.9" stroke="#8c8c8c" stroke-width="1"/>
<line x1="489.57" y1="343.6" x2="489.57" y2="346.9" stroke="#8c8c8c" stroke-width="1"/>
<line x1="546.1" y1="343.6" x2="546.1" y2="346.9" stroke="#8c8c8c" stroke-width="1"/>
<line x1="600.79" y1="343.6" x2="600.79" y2="346.9" stroke="#8c8c8c" stroke-width="1"/>
<text x="33" y="17.3" font-size="15" font-weight="bold" fill="#000">(a)</text>
<text x="53.7" y="17.3" font-size="11" fill="#000">Experiment 1</text>
<text x="378.5" y="17.3" font-size="15" font-weight="bold" fill="#000">(b)</text>
<text x="399.2" y="17.3" font-size="11" fill="#000">Experiment 2</text>
<text x="33.6" y="194.3" font-size="15" font-weight="bold" fill="#000">(c)</text>
<text x="54.3" y="194.3" font-size="11" fill="#000">Experiment 1</text>
<text x="379.2" y="194" font-size="15" font-weight="bold" fill="#000">(d)</text>
<text x="399.9" y="194" font-size="11" fill="#000">Experiment 2</text>
<text x="4.8" y="86" font-size="11" text-anchor="middle" font-weight="bold" fill="#000" dominant-baseline="central" transform="rotate(-90 4.8 86)">Daily rainfall (mm)</text>
<text x="350" y="86.2" font-size="11" text-anchor="middle" font-weight="bold" fill="#000" dominant-baseline="central" transform="rotate(-90 350 86.2)">Daily rainfall (mm)</text>
<text x="331.7" y="86.2" font-size="11.25" text-anchor="middle" font-weight="bold" fill="#000" dominant-baseline="central" transform="rotate(-90 331.7 86.2)">Cumulative water input (mm)</text>
<text x="679" y="86.2" font-size="11.25" text-anchor="middle" font-weight="bold" fill="#000" dominant-baseline="central" transform="rotate(-90 679 86.2)">Cumulative water input (mm)</text>
<text x="5" y="261" font-size="11" text-anchor="middle" font-weight="bold" fill="#000" dominant-baseline="central" transform="rotate(-90 5 261)">Daily air temperature (°C)</text>
<text x="350" y="261.5" font-size="11" text-anchor="middle" font-weight="bold" fill="#000" dominant-baseline="central" transform="rotate(-90 350 261.5)">Daily air temperature (°C)</text>
<text x="32.4" y="356.7" font-size="11" text-anchor="middle" font-weight="normal" fill="#000" dominant-baseline="central">Jul-17</text>
<text x="85.24" y="356.7" font-size="11" text-anchor="middle" font-weight="normal" fill="#000" dominant-baseline="central">Aug-17</text>
<text x="138.09" y="356.7" font-size="11" text-anchor="middle" font-weight="normal" fill="#000" dominant-baseline="central">Sep-17</text>
<text x="189.22" y="356.7" font-size="11" text-anchor="middle" font-weight="normal" fill="#000" dominant-baseline="central">Oct-17</text>
<text x="242.07" y="356.7" font-size="11" text-anchor="middle" font-weight="normal" fill="#000" dominant-baseline="central">Nov-17</text>
<text x="293.2" y="356.7" font-size="11" text-anchor="middle" font-weight="normal" fill="#000" dominant-baseline="central">Dec-17</text>
<text x="377.1" y="356.8" font-size="11" text-anchor="middle" font-weight="normal" fill="#000" dominant-baseline="central">May-18</text>
<text x="433.63" y="356.8" font-size="11" text-anchor="middle" font-weight="normal" fill="#000" dominant-baseline="central">Aug-18</text>
<text x="490.17" y="356.8" font-size="11" text-anchor="middle" font-weight="normal" fill="#000" dominant-baseline="central">Nov-18</text>
<text x="546.7" y="356.8" font-size="11" text-anchor="middle" font-weight="normal" fill="#000" dominant-baseline="central">Feb-19</text>
<text x="601.39" y="356.8" font-size="11" text-anchor="middle" font-weight="normal" fill="#000" dominant-baseline="central">May-19</text>
<text x="163.5" y="371.1" font-size="11" text-anchor="middle" font-weight="bold" fill="#000" dominant-baseline="central">Date</text>
<text x="508.2" y="371.1" font-size="11" text-anchor="middle" font-weight="bold" fill="#000" dominant-baseline="central">Date</text>
<rect x="123.3" y="13.6" width="12.3" height="3.3" fill="#fff" stroke="#8c8c8c" stroke-width="0.75"/>
<text transform="translate(136.8 17.3) scale(0.9155 1)" font-size="7.1" fill="#000">Rainfall</text>
<line x1="123.3" y1="30.3" x2="135.6" y2="30.3" stroke="#262626" stroke-width="1.5"/>
<text transform="translate(136.8 32.4) scale(0.9155 1)" font-size="7.1" fill="#000">Cumulative rainfall</text>
<line x1="123.3" y1="45.5" x2="135.6" y2="45.5" stroke="#333" stroke-width="1.2" stroke-dasharray="0 2.05" stroke-linecap="round"/>
<text transform="translate(136.8 47.6) scale(0.9155 1)" font-size="7.1" fill="#000">Cumulative supplementry</text>
<text transform="translate(136.8 54.5) scale(0.9155 1)" font-size="7.1" fill="#000">rainfall/irrigation</text>
<line x1="123.3" y1="60.8" x2="135.6" y2="60.8" stroke="#a6a6a6" stroke-width="1.5"/>
<text transform="translate(136.8 62.9) scale(0.9155 1)" font-size="7.1" fill="#000">Cumulative total water input</text>
<line x1="123.3" y1="75.7" x2="135.6" y2="75.7" stroke="#444" stroke-width="1.15" stroke-dasharray="2.9 1.2"/>
<text transform="translate(136.8 77.8) scale(0.9155 1)" font-size="7.1" fill="#000">Cumulative long-term average</text>
<text transform="translate(136.8 85.5) scale(0.9155 1)" font-size="7.1" fill="#000">rainfall (1971-2000)</text>
<rect x="381.2" y="23.5" width="12.3" height="3.3" fill="#fff" stroke="#8c8c8c" stroke-width="0.75"/>
<text transform="translate(394.7 27.2) scale(0.9155 1)" font-size="7.1" fill="#000">Rainfall</text>
<line x1="381.2" y1="38" x2="393.5" y2="38" stroke="#262626" stroke-width="1.5"/>
<text transform="translate(394.7 40.1) scale(0.9155 1)" font-size="7.1" fill="#000">Cumulative rainfall</text>
<line x1="381.2" y1="50.9" x2="393.5" y2="50.9" stroke="#333" stroke-width="1.2" stroke-dasharray="0 2.05" stroke-linecap="round"/>
<text transform="translate(394.7 53) scale(0.9155 1)" font-size="7.1" fill="#000">Cumulative supplementry rainfall/irrigation</text>
<line x1="381.2" y1="64.3" x2="393.5" y2="64.3" stroke="#a6a6a6" stroke-width="1.5"/>
<text transform="translate(394.7 66.4) scale(0.9155 1)" font-size="7.1" fill="#000">Cumulative total water input</text>
<line x1="381.2" y1="77.5" x2="393.5" y2="77.5" stroke="#444" stroke-width="1.15" stroke-dasharray="2.9 1.2"/>
<text transform="translate(394.7 79.6) scale(0.9155 1)" font-size="7.1" fill="#000">Cumulative long-term average rainfall (1971-</text>
<text transform="translate(394.7 86.5) scale(0.9155 1)" font-size="7.1" fill="#000">2000)</text>
<line x1="94.4" y1="202.8" x2="106.7" y2="202.8" stroke="#a6a6a6" stroke-width="1.5"/>
<text transform="translate(107.9 204.9) scale(0.9155 1)" font-size="7.1" fill="#000">Actual (2017)</text>
<line x1="94.4" y1="212.8" x2="106.7" y2="212.8" stroke="#444" stroke-width="1.15" stroke-dasharray="2.9 1.2"/>
<text transform="translate(107.9 214.9) scale(0.9155 1)" font-size="7.1" fill="#000">Long-term average (1971-2000)</text>
<line x1="439.6" y1="203.5" x2="451.9" y2="203.5" stroke="#a6a6a6" stroke-width="1.5"/>
<text transform="translate(453.1 205.6) scale(0.9155 1)" font-size="7.1" fill="#000">Actual (2018/19)</text>
<line x1="439.6" y1="213.3" x2="451.9" y2="213.3" stroke="#444" stroke-width="1.15" stroke-dasharray="2.9 1.2"/>
<text transform="translate(453.1 215.4) scale(0.9155 1)" font-size="7.1" fill="#000">Long-term average (1971-2000)</text>
</svg>
</body></html>
